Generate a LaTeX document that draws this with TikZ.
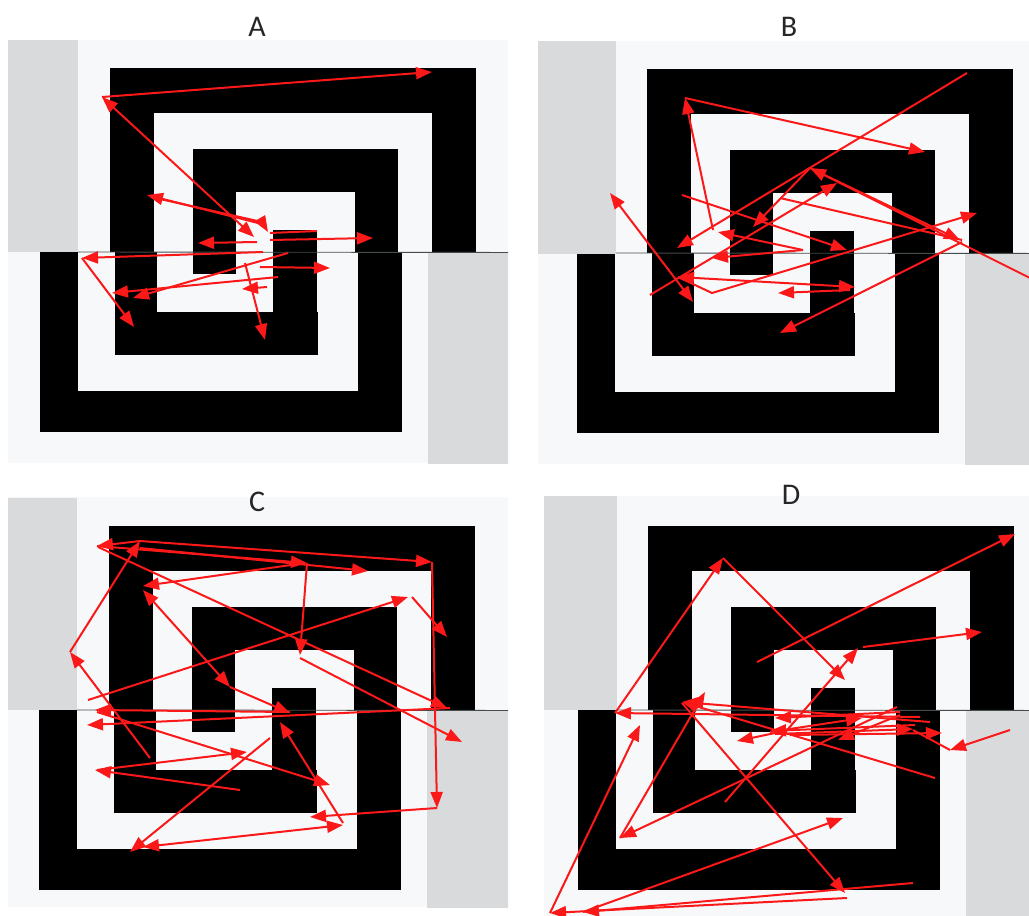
\documentclass[tikz,border=0pt]{standalone}
\usepackage{fontspec}
\setmainfont{Carlito}
\usetikzlibrary{arrows.meta}
\definecolor{panelbg}{RGB}{247,248,250}
\definecolor{grayrect}{RGB}{217,218,220}
\definecolor{arrowred}{RGB}{250,24,24}
\definecolor{divline}{RGB}{70,75,75}
\tikzset{
  arr/.style={draw=arrowred, line width=2pt, -{Triangle[length=16pt,width=12pt]}},
  arrbi/.style={draw=arrowred, line width=2pt, {Triangle[length=16pt,width=12pt]}-{Triangle[length=16pt,width=12pt]}},
  redline/.style={draw=arrowred, line width=2pt},
  paneltitle/.style={font=\fontsize{30}{33}\selectfont, text=black!85, inner sep=0pt},
  blackband/.style={fill=black},
}
% spiral drawn in panel-A coordinates
\newcommand\spiralpic{%
  \fill[grayrect] (-40,40) rectangle (78,252);
  \fill[grayrect] (428,252) rectangle (540,480);
  % top half
  \fill[blackband] (110,68) rectangle (476,113);
  \fill[blackband] (110,68) rectangle (154,252);
  \fill[blackband] (432,68) rectangle (476,252);
  \fill[blackband] (193,149) rectangle (398,192);
  \fill[blackband] (193,149) rectangle (236,274);
  \fill[blackband] (355,149) rectangle (398,253);
  % bottom half
  \fill[blackband] (40,252) rectangle (78,432);
  \fill[blackband] (40,391) rectangle (402,432);
  \fill[blackband] (358,252) rectangle (402,432);
  \fill[blackband] (115,252) rectangle (157,355);
  \fill[blackband] (115,312) rectangle (318,355);
  \fill[blackband] (273,230) rectangle (317,355);
  \draw[divline, line width=0.9pt] (78,252) -- (540,252.5);
}
\begin{document}
\begin{tikzpicture}[x=1pt,y=-1pt]
\useasboundingbox (0,0) rectangle (1029,916);
\fill[white] (0,0) rectangle (1029,916);

% ---------------- Panel A ----------------
\begin{scope}
  \clip (8,40) rectangle (508,463);
  \fill[panelbg] (8,40) rectangle (508,463);
  \begin{scope}[shift={(0,0)}]\spiralpic\end{scope}
  \draw[arr] (102,97) -- (432,72);
  \draw[arrbi] (102,97) -- (254,237);
  \draw[arr] (262,224) -- (147,195);
  \draw[arr] (160,199) -- (262,222) -- (268,232);
  \draw[redline] (317,231) -- (270,233);
  \draw[arr] (270,240) -- (373,238);
  \draw[arr] (257,242) -- (198,243);
  \draw[arr] (263,252) -- (82,258);
  \draw[arr] (82,258) -- (134,327);
  \draw[arr] (288,253) -- (133,298);
  \draw[arr] (278,277) -- (112,293);
  \draw[arr] (260,267) -- (330,268);
  \draw[arr] (267,287) -- (242,289);
  \draw[arr] (245,263) -- (265,340);
\end{scope}

% ---------------- Panel B ----------------
\begin{scope}
  \clip (538,41) rectangle (1029,464);
  \fill[panelbg] (538,41) rectangle (1029,464);
  \begin{scope}[shift={(537,1)}]\spiralpic\end{scope}
  \fill[grayrect] (538,41) rectangle (616,254);
  \draw[arr] (685,98) -- (925,152);
  \draw[arr] (713,230) -- (685,98);
  \draw[arr] (803,250) -- (718,232);
  \draw[arr] (803,250) -- (712,258);
  \draw[arr] (967,73) -- (677,248);
  \draw[arr] (1040,283) -- (810,168);
  \draw[arr] (810,168) -- (960,240);
  \draw[arr] (810,168) -- (753,227);
  \draw[arr] (650,295) -- (837,183);
  \draw[arr] (682,195) -- (847,250);
  \draw[redline] (780,198) -- (962,240);
  \draw[arr] (962,242) -- (780,333);
  \draw[arrbi] (678,277) -- (855,287);
  \draw[arr] (850,290) -- (778,293);
  \draw[arrbi] (610,193) -- (693,302);
  \draw[arr] (678,277) -- (712,293) -- (977,213);
\end{scope}

% ---------------- Panel C ----------------
\begin{scope}
  \clip (8,497) rectangle (508,907);
  \fill[panelbg] (8,497) rectangle (508,907);
  \begin{scope}[shift={(-1,458)}]\spiralpic\end{scope}
  \draw[arr] (140,541) -- (432,562);
  \draw[arr] (140,541) -- (97,546);
  \draw[arr] (140,548) -- (368,571);
  \draw[arr] (97,546) -- (307,563);
  \draw[arr] (70,652) -- (140,541);
  \draw[arr] (150,758) -- (70,652);
  \draw[arr] (432,562) -- (437,808);
  \draw[arr] (437,808) -- (310,817);
  \draw[arr] (307,563) -- (300,655);
  \draw[arr] (300,658) -- (462,742);
  \draw[arr] (98,547) -- (447,708);
  \draw[arr] (305,563) -- (143,586);
  \draw[arrbi] (143,590) -- (230,687);
  \draw[arr] (230,687) -- (290,713);
  \draw[arr] (290,712) -- (95,710);
  \draw[arr] (450,708) -- (87,725);
  \draw[arr] (88,700) -- (408,597);
  \draw[arr] (412,597) -- (447,637);
  \draw[arr] (97,712) -- (330,785);
  \draw[arr] (343,823) -- (280,722);
  \draw[arrbi] (143,847) -- (343,825);
  \draw[arr] (270,738) -- (130,852);
  \draw[arr] (240,790) -- (95,770);
  \draw[arr] (97,770) -- (247,752);
\end{scope}

% ---------------- Panel D ----------------
\begin{scope}
  \clip (544,496) rectangle (1029,916);
  \fill[panelbg] (544,496) rectangle (1029,916);
  \begin{scope}[shift={(538,458)}]\spiralpic\end{scope}
  \fill[grayrect] (544,496) rectangle (617,710);
  \draw[arr] (757,662) -- (1015,534);
  \draw[arr] (615,713) -- (723,558);
  \draw[arr] (723,558) -- (845,680);
  \draw[arr] (920,717) -- (615,713);
  \draw[arr] (863,647) -- (982,632);
  \draw[arr] (725,802) -- (858,648);
  \draw[arr] (620,838) -- (705,692);
  \draw[arr] (550,913) -- (640,725);
  \draw[arr] (897,707) -- (620,838);
  \draw[arr] (935,778) -- (682,702);
  \draw[arr] (682,703) -- (845,893);
  \draw[arr] (913,883) -- (583,912);
  \draw[arr] (847,898) -- (550,913);
  \draw[arr] (583,912) -- (843,818);
  \draw[arr] (1010,730) -- (950,750);
  \draw[arr] (930,722) -- (682,702);
  \draw[arr] (900,712) -- (775,718);
  \draw[arr] (915,725) -- (770,731);
  \draw[arr] (775,733) -- (737,741);
  \draw[arr] (770,732) -- (862,718);
  \draw[arr] (775,734) -- (913,729);
  \draw[arr] (790,735) -- (942,733);
  \draw[arr] (900,715) -- (838,740);
  \draw[redline] (913,730) -- (950,750);
\end{scope}

% titles (drawn last, above the panels)
\node[paneltitle] (tA) at (257,27) {A};
\node[paneltitle] (tB) at (789,27) {B};
\node[paneltitle] (tC) at (257,502) {C};
\node[paneltitle] (tD) at (791,495) {D};
\end{tikzpicture}
\end{document}
